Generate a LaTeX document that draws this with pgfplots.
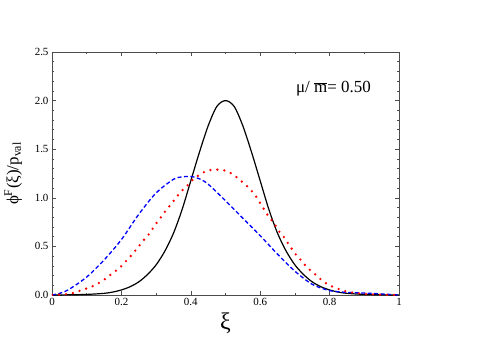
\documentclass[border=0pt]{standalone}
\usepackage{pgfplots}
\pgfplotsset{compat=1.18}
\usepackage{fontspec}
\setmainfont{Liberation Serif}

% values
\begin{document}
\begin{tikzpicture}
\begin{axis}[
    name=ax,
    scale only axis,
    width=347bp, height=243bp,
    xmin=0, xmax=1, ymin=0, ymax=2.5,
    xtick={0,0.2,0.4,0.6,0.8,1},
    ytick={0,0.5,1,1.5,2,2.5},
    minor x tick num=1,
    minor y tick num=4,
    major tick length=4bp,
    minor tick length=2bp,
    axis line style={black!70, line width=0.8bp},
    every tick/.style={black!70, line width=0.6bp},
    tick label style={font=\fontsize{11}{13}\selectfont},
    /pgf/number format/assume math mode=true,
    yticklabel style={/pgf/number format/fixed, /pgf/number format/fixed zerofill, /pgf/number format/precision=1},
    xlabel={ξ},
    xlabel style={font=\fontsize{24}{26}\selectfont, at={(axis description cs:0.5,-0.115)}, anchor=center},
    ylabel={ϕ\textsuperscript{F}(ξ)/p\textsubscript{val}},
    ylabel style={font=\fontsize{17}{19}\selectfont, at={(axis description cs:-0.112,0.5)}, anchor=center},
]
% black solid
\addplot[black, line width=1.2bp, smooth, tension=0.5] coordinates {
(0,0) (0.05,0.002) (0.1,0.006) (0.15,0.017) (0.175,0.03) (0.2,0.052)
(0.225,0.085) (0.25,0.135) (0.275,0.21) (0.3,0.31) (0.325,0.45)
(0.35,0.635) (0.375,0.88) (0.4,1.175) (0.425,1.47) (0.45,1.74)
(0.475,1.94) (0.5,2.0) (0.525,1.94) (0.55,1.74) (0.575,1.47)
(0.6,1.175) (0.625,0.88) (0.65,0.635) (0.675,0.45) (0.7,0.31)
(0.725,0.21) (0.75,0.135) (0.775,0.085) (0.8,0.052) (0.825,0.03)
(0.85,0.017) (0.9,0.006) (0.95,0.002) (1,0)
};
% blue dashed
\addplot[blue, line width=1.3bp, smooth, tension=0.5, dash pattern=on 4bp off 2.5bp] coordinates {
(0,0) (0.025,0.02) (0.05,0.06) (0.1,0.185) (0.15,0.36) (0.2,0.57)
(0.25,0.83) (0.3,1.05) (0.35,1.19) (0.375,1.215) (0.4,1.22)
(0.425,1.195) (0.45,1.14) (0.5,0.97) (0.55,0.79) (0.6,0.61)
(0.65,0.42) (0.7,0.245) (0.75,0.11) (0.8,0.045) (0.85,0.027)
(0.9,0.02) (0.95,0.011) (1,0)
};
% red dotted
\addplot[red, line width=2.6bp, line cap=round, dash pattern=on 0bp off 7bp] coordinates {
(0,0) (0.03,0.005) (0.05,0.012) (0.066,0.024) (0.085,0.05) (0.107,0.075)
(0.124,0.10) (0.143,0.14) (0.159,0.18) (0.176,0.23) (0.193,0.27)
(0.208,0.33) (0.222,0.38) (0.236,0.44) (0.250,0.50) (0.263,0.56)
(0.276,0.61) (0.288,0.67) (0.301,0.74) (0.314,0.80) (0.326,0.86)
(0.340,0.92) (0.353,0.98) (0.366,1.04) (0.379,1.09) (0.394,1.14)
(0.409,1.20) (0.427,1.24) (0.446,1.28) (0.467,1.29) (0.488,1.29)
(0.508,1.27) (0.526,1.23) (0.543,1.18) (0.559,1.13) (0.573,1.08)
(0.587,1.02) (0.608,0.90) (0.620,0.83) (0.633,0.77) (0.645,0.71)
(0.657,0.64) (0.670,0.59) (0.682,0.52) (0.694,0.46) (0.706,0.40)
(0.720,0.35) (0.733,0.29) (0.749,0.24) (0.766,0.19) (0.781,0.14)
(0.799,0.10) (0.816,0.075) (0.838,0.045) (0.868,0.024) (0.900,0.01)
(0.93,0.005) (0.96,0.002) (1,0)
};
\node[anchor=base west, inner sep=0, font=\fontsize{17}{19}\selectfont] at (axis cs:0.703,2.08) {μ/ $\overline{\mbox{m}}$= 0.50};
\end{axis}
\path[use as bounding box] ([shift={(-52bp,-52bp)}]ax.south west) rectangle ++(491bp,347bp);
\end{tikzpicture}
\end{document}
